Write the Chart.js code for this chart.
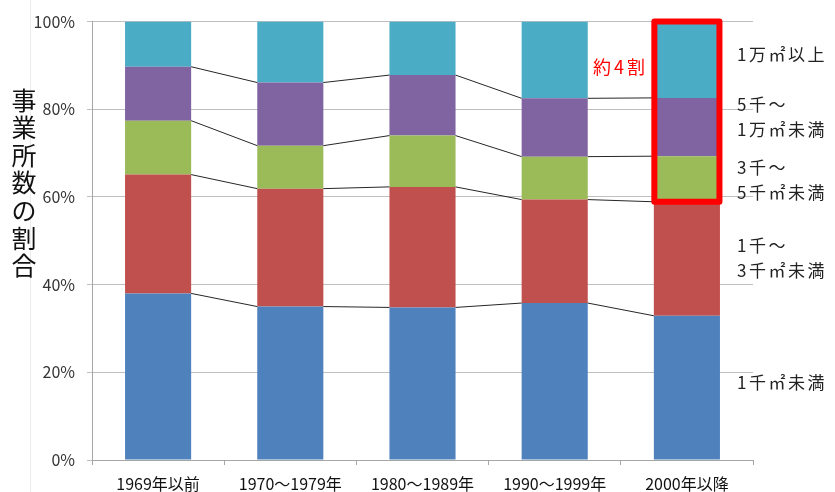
<!DOCTYPE html>
<html>
<head>
<meta charset="utf-8">
<script src="https://cdn.jsdelivr.net/npm/chart.js@4"></script>
<style>
  html, body { margin: 0; padding: 0; background: #ffffff; }
  #wrap { width: 835px; height: 492px; position: relative; }
</style>
</head>
<body>
<div id="wrap"><canvas id="c" width="835" height="492"></canvas></div>
<script>
// ---- data ----
const categories = ['1969年以前', '1970～1979年', '1980～1989年', '1990～1999年', '2000年以降'];
const under1k   = [38.0, 35.0, 34.8, 35.8, 32.9];   // 1千㎡未満
const from1to3k = [27.1, 26.9, 27.5, 23.6, 26.0];   // 1千～3千㎡未満
const from3to5k = [12.3,  9.8, 11.7,  9.8, 10.4];   // 3千～5千㎡未満
const from5to10k= [12.3, 14.4, 13.8, 13.3, 13.3];   // 5千～1万㎡未満
const over10k   = [10.3, 13.9, 12.2, 17.5, 17.4];   // 1万㎡以上
const seriesNames = [['1千㎡未満'], ['1千～', '3千㎡未満'], ['3千～', '5千㎡未満'], ['5千～', '1万㎡未満'], ['1万㎡以上']];
const yTicks = [0, 20, 40, 60, 80, 100];
const yTitle = '事業所数の割合';
const note = '約4割';

const colors = ['#4F81BD', '#C0504D', '#9BBB59', '#8064A2', '#4BACC6'];
const FONT = '"Noto Sans CJK JP", "Noto Sans", sans-serif';

const overlay = {
  id: 'overlay',
  beforeDraw(chart) {
    const ctx = chart.ctx;
    ctx.save();
    ctx.strokeStyle = '#ececec';
    ctx.lineWidth = 1;
    ctx.beginPath();
    ctx.moveTo(30.5, 0); ctx.lineTo(30.5, 492);
    ctx.stroke();
    ctx.restore();
  },
  afterDatasetsDraw(chart) {
    const ctx = chart.ctx;
    const ys = chart.scales.y;
    ctx.save();
    // series lines
    ctx.strokeStyle = '#262626';
    ctx.lineWidth = 1;
    for (let d = 0; d < 4; d++) {
      const meta = chart.getDatasetMeta(d);
      for (let i = 0; i < meta.data.length - 1; i++) {
        const a = meta.data[i], b = meta.data[i + 1];
        ctx.beginPath();
        ctx.moveTo(a.x + a.width / 2, a.y);
        ctx.lineTo(b.x - b.width / 2, b.y);
        ctx.stroke();
      }
    }
    // red box around top three segments of the last bar
    const last = categories.length - 1;
    const topEl = chart.getDatasetMeta(4).data[last];
    const baseEl = chart.getDatasetMeta(1).data[last];
    ctx.strokeStyle = '#FF0000';
    ctx.lineWidth = 6;
    ctx.lineJoin = 'round';
    const x0 = topEl.x - topEl.width / 2 + 0.5, x1 = topEl.x + topEl.width / 2 - 0.5;
    const y0 = topEl.y, y1 = baseEl.y;
    ctx.beginPath();
    ctx.rect(x0, y0, x1 - x0, y1 - y0);
    ctx.stroke();

    // note
    ctx.fillStyle = '#FF0000';
    ctx.font = '18px ' + FONT;
    ctx.letterSpacing = '3px';
    ctx.textAlign = 'left';
    ctx.textBaseline = 'middle';
    ctx.fillText(note, 593, 67);

    // right labels
    ctx.fillStyle = '#222222';
    ctx.font = '17px ' + FONT;
    ctx.letterSpacing = '2.5px';
    const labelPos = [17.7, 46.0, 63.9, 78.2, 92.5];
    seriesNames.forEach((lines, k) => {
      const yc = ys.getPixelForValue(labelPos[k]);
      const n = lines.length;
      lines.forEach((t, j) => {
        ctx.fillText(t, 737, yc + (j - (n - 1) / 2) * 25);
      });
    });

    // y title (vertical stacked)
    ctx.letterSpacing = '0px';
    ctx.fillStyle = '#111111';
    ctx.font = '25px ' + FONT;
    ctx.textAlign = 'center';
    const chars = Array.from(yTitle);
    chars.forEach((ch, i) => {
      ctx.fillText(ch, 24, 100 + i * 27.6);
    });
    ctx.restore();
  }
};

new Chart(document.getElementById('c'), {
  type: 'bar',
  data: {
    labels: categories,
    datasets: [under1k, from1to3k, from3to5k, from5to10k, over10k].map((arr, k) => ({
      label: seriesNames[k].join(''),
      data: arr,
      backgroundColor: colors[k],
      borderWidth: 0,
      categoryPercentage: 1.0,
      barPercentage: 0.5
    }))
  },
  options: {
    responsive: false,
    animation: false,
    devicePixelRatio: 1,
    layout: { autoPadding: false, padding: { left: 0, right: 82, top: 20, bottom: 0 } },
    plugins: { legend: { display: false }, tooltip: { enabled: false }, title: { display: false } },
    scales: {
      x: {
        stacked: true,
        grid: { display: true, drawOnChartArea: false, drawTicks: true, tickLength: 5, color: '#a6a6a6', offset: true },
        border: { display: true, color: '#a6a6a6', width: 1 },
        ticks: { color: '#111111', font: { family: FONT, size: 16 }, padding: 9, maxRotation: 0, autoSkip: false },
        afterFit(s) { s.height = 32; }
      },
      y: {
        stacked: true,
        min: 0, max: 100,
        afterBuildTicks(s) { s.ticks = yTicks.map(v => ({ value: v })); },
        grid: { color: '#bfbfbf', lineWidth: 1, drawTicks: true, tickLength: 5 },
        border: { display: true, color: '#a6a6a6', width: 1 },
        ticks: { color: '#333333', font: { family: FONT, size: 16 }, padding: 12, callback: v => v + '%' },
        afterFit(s) { s.width = 92; }
      }
    }
  },
  plugins: [overlay]
});
</script>
</body>
</html>
